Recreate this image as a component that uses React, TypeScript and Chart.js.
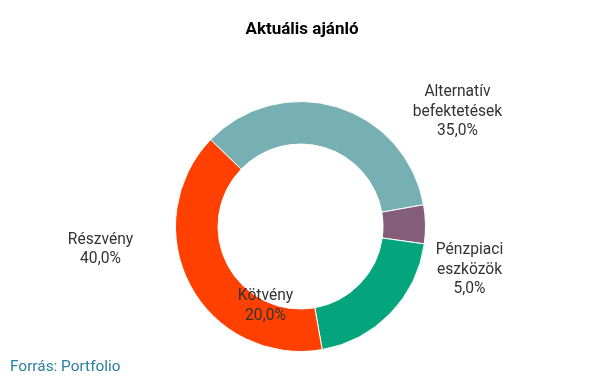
import React, { useEffect, useRef } from "react";
import { Chart, registerables } from "chart.js";

Chart.register(...registerables);

const categories = ["Alternatív befektetések", "Pénzpiaci eszközök", "Kötvény", "Részvény"];
const labelLines = [["Alternatív", "befektetések"], ["Pénzpiaci", "eszközök"], ["Kötvény"], ["Részvény"]];
const values = [35, 5, 20, 40];
const colors = ["#77B0B3", "#845E78", "#04A47D", "#FF4000"];
const titleText = "Aktuális ajánló";
const sourceText = "Forrás: Portfolio";

// label anchor offsets in units of the outer radius (dx, dy)
const labelAnchors = [
  [1.256, -0.918],
  [1.352, 0.346],
  [-0.28, 0.638],
  [-1.6, 0.186],
];

const fmt = (v: number) => v.toFixed(1).replace(".", ",") + "%";

const textPlugin = {
  id: "customText",
  afterDraw(chart: any) {
    const ctx = chart.ctx;
    const meta = chart.getDatasetMeta(0);
    const arc0 = meta.data[0];
    const cx = arc0.x;
    const cy = arc0.y;
    const r = arc0.outerRadius;
    ctx.save();
    ctx.textAlign = "center";
    ctx.textBaseline = "middle";
    ctx.fillStyle = "#000";
    ctx.font = "bold 17px Roboto";
    ctx.fillText(titleText, 302, 30);

    ctx.font = "15.6px Roboto";
    ctx.fillStyle = "#333333";
    const lh = 19.5;
    values.forEach((v, i) => {
      const lines = [...labelLines[i], fmt(v)];
      const ax = cx + labelAnchors[i][0] * r;
      const ay = cy + labelAnchors[i][1] * r;
      const startY = ay - ((lines.length - 1) * lh) / 2;
      lines.forEach((ln, j) => ctx.fillText(ln, ax, startY + j * lh));
    });

    ctx.textAlign = "left";
    ctx.font = "15.4px Roboto";
    ctx.fillStyle = "#2A7FA3";
    ctx.fillText(sourceText, 10, 367);
    ctx.restore();
  },
};

export default function App() {
  const ref = useRef<HTMLCanvasElement | null>(null);
  useEffect(() => {
    if (!ref.current) return;
    const chart = new Chart(ref.current, {
      type: "doughnut",
      data: {
        labels: categories,
        datasets: [
          {
            data: values,
            backgroundColor: colors,
            borderColor: "#ffffff",
            borderWidth: 1,
          },
        ],
      },
      options: {
        animation: false,
        responsive: true,
        maintainAspectRatio: false,
        rotation: -46,
        cutout: "66%",
        layout: { padding: { top: 101, bottom: 26, left: 175, right: 179 } },
        plugins: {
          legend: { display: false },
          title: { display: false },
          tooltip: { enabled: false },
        },
      },
      plugins: [textPlugin],
    });
    return () => chart.destroy();
  }, []);
  return (
    <div style={{ position: "fixed", left: 0, top: 0, width: 605, height: 378, background: "#fff" }}>
      <canvas ref={ref} />
    </div>
  );
}
